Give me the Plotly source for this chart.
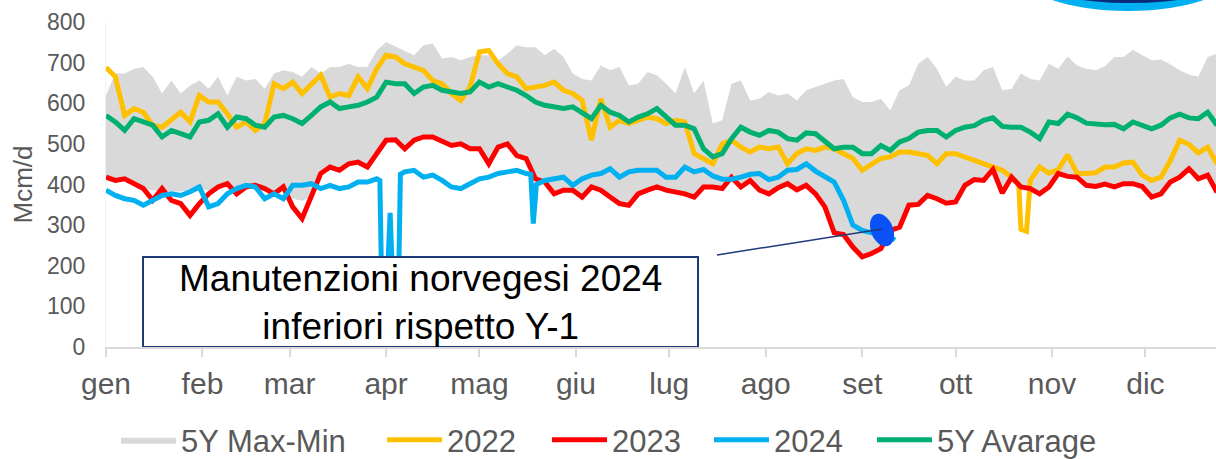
import numpy as np
import plotly.graph_objects as go

# ---------------- data ----------------
month_labels = ["gen", "feb", "mar", "apr", "mag", "giu", "lug", "ago", "set", "ott", "nov", "dic"]
month_start_days = [0, 31, 59, 90, 120, 151, 181, 212, 243, 273, 304, 334]

# shared sampling grid: day of year, every 3 days
days = list(range(0, 358, 3))

band_max = [620, 673, 673, 685, 689, 665, 624, 656, 624, 644, 656, 636, 665, 619, 665, 656, 660, 636, 673, 681,
            677, 665, 689, 673, 689, 689, 697, 689, 689, 730, 751, 740, 730, 718, 743, 747, 710, 714, 706, 714,
            718, 718, 706, 722, 743, 738, 738, 718, 734, 714, 673, 660, 656, 693, 681, 689, 644, 648, 677, 669,
            648, 624, 689, 624, 656, 550, 558, 648, 656, 607, 611, 628, 619, 624, 607, 632, 640, 648, 656, 660,
            615, 603, 603, 611, 583, 632, 644, 697, 714, 685, 640, 665, 656, 656, 681, 689, 632, 636, 673, 660,
            656, 697, 685, 715, 693, 685, 681, 691, 714, 714, 732, 718, 706, 708, 696, 681, 671, 665, 714, 722]

band_min = [410, 405, 410, 400, 390, 385, 385, 383, 383, 385, 390, 385, 392, 400, 380, 394, 396, 385, 378, 392,
            365, 360, 370, 425, 440, 433, 449, 453, 441, 474, 507, 508, 486, 507, 515, 515, 503, 494, 498, 486,
            486, 449, 490, 498, 469, 462, 412, 404, 375, 384, 384, 367, 392, 384, 367, 351, 347, 375, 384, 392,
            384, 380, 375, 367, 392, 392, 388, 416, 392, 408, 384, 375, 390, 400, 385, 396, 375, 343, 279, 275,
            244, 220, 228, 240, 285, 293, 347, 349, 371, 363, 352, 355, 396, 410, 408, 435, 377, 416, 392, 388,
            375, 392, 425, 418, 416, 396, 393, 399, 392, 400, 400, 393, 367, 375, 404, 416, 437, 412, 421, 379]

v2022 = [688, 665, 570, 587, 578, 546, 541, 558, 578, 554, 619, 603, 603, 574, 541, 554, 533, 550, 648, 636,
         652, 624, 648, 669, 615, 624, 619, 665, 636, 685, 718, 714, 697, 689, 681, 656, 648, 624, 607, 640,
         726, 730, 697, 673, 665, 636, 640, 644, 652, 632, 624, 607, 509, 611, 541, 558, 550, 558, 566, 562,
         550, 558, 554, 476, 464, 451, 500, 509, 492, 480, 492, 488, 492, 451, 476, 488, 484, 492, 488, 476,
         464, 435, 451, 464, 468, 480, 480, 476, 472, 451, 476, 476, 468, 460, 454, 443, 435, 418, 290, 410,
         443, 428, 437, 473, 428, 427, 429, 443, 443, 453, 455, 423, 410, 418, 459, 509, 499, 478, 492, 451]
# extra points for the narrow late-October drop of 2022
spike_days_2022 = [293.3, 295.8]
spike_vals_2022 = [400, 285]

v2023 = [418, 410, 414, 402, 390, 361, 390, 361, 353, 324, 353, 377, 394, 402, 377, 394, 398, 390, 377, 394,
         345, 316, 369, 427, 443, 435, 451, 455, 443, 476, 509, 510, 488, 509, 517, 517, 505, 496, 500, 488,
         488, 451, 492, 500, 471, 464, 414, 406, 377, 386, 386, 369, 394, 386, 369, 353, 349, 377, 386, 394,
         386, 382, 377, 369, 394, 394, 390, 418, 394, 410, 386, 377, 392, 402, 387, 398, 377, 345, 281, 277,
         246, 222, 230, 242, 287, 295, 349, 351, 373, 365, 354, 357, 398, 412, 410, 437, 379, 418, 394, 390,
         377, 394, 427, 420, 418, 398, 395, 401, 394, 402, 402, 395, 369, 377, 406, 418, 439, 414, 423, 381]

v5y_avg = [570, 554, 533, 562, 554, 546, 517, 533, 525, 517, 554, 558, 574, 541, 566, 562, 546, 541, 566, 570,
           562, 550, 570, 591, 603, 587, 591, 595, 603, 615, 652, 648, 648, 624, 640, 644, 632, 628, 624, 628,
           652, 640, 648, 640, 632, 619, 603, 595, 591, 587, 591, 578, 562, 595, 578, 570, 554, 566, 574, 587,
           566, 546, 546, 537, 488, 468, 476, 513, 541, 529, 521, 533, 529, 513, 509, 527, 525, 505, 488, 492,
           492, 476, 476, 496, 484, 505, 513, 529, 533, 533, 517, 533, 541, 545, 558, 564, 543, 541, 541, 529,
           513, 554, 550, 573, 564, 551, 548, 547, 548, 537, 554, 546, 537, 546, 564, 573, 564, 562, 578, 546]

days_2024 = [0, 3, 6, 9, 12, 15, 18, 21, 24, 27, 30, 33, 36, 39, 42, 45, 48, 51, 54, 57,
             60, 63, 66, 69, 72, 75, 78, 81, 84, 87, 88, 88.6, 90.3, 91.3, 92.2, 94, 94.6, 96, 99, 102,
             105, 108, 111, 114, 117, 120, 123, 126, 129, 132, 135, 136.5, 137.3, 138.3, 141, 144, 147, 150, 153, 156,
             159, 162, 165, 168, 171, 174, 177, 180, 183, 186, 189, 192, 195, 198, 201, 204, 207, 210, 213, 216,
             219, 222, 225, 228, 231, 234, 237, 240, 243, 246, 249, 252, 253.5]
v2024 = [386, 373, 365, 361, 349, 361, 373, 377, 373, 382, 394, 345, 353, 377, 390, 398, 394, 365, 377, 365,
         398, 398, 402, 390, 398, 390, 394, 406, 406, 414, 410, 150, 150, 330, 150, 150, 425, 431, 435, 418,
         423, 410, 394, 390, 402, 414, 418, 427, 431, 435, 427, 425, 304, 400, 410, 414, 418, 398, 414, 423,
         427, 439, 418, 431, 435, 435, 435, 418, 418, 443, 431, 437, 421, 413, 413, 418, 425, 427, 412, 418,
         435, 437, 451, 433, 421, 406, 361, 300, 287, 281, 283, 272, 263]

# ---------------- helpers ----------------
def merge_points(xs, ys, extra_x, extra_y):
    pts = sorted(zip(list(xs) + list(extra_x), list(ys) + list(extra_y)))
    return [p[0] for p in pts], [p[1] for p in pts]

x2022, y2022 = merge_points(days, v2022, spike_days_2022, spike_vals_2022)

FONT = "Liberation Sans, Arial, sans-serif"
GREY_TXT = "#595959"
C2022 = "#FFC000"
C2023 = "#FF0000"
C2024 = "#00B0F0"
C5Y = "#00B070"
BAND = "#D9D9D9"
LW = 5

# layout geometry (pixels)
W, H = 1216, 459
M_L, M_R, M_T, M_B = 106, 0, 22, 112
PX_PER_DAY = 3.112
X_MAX = (W - M_L - M_R) / PX_PER_DAY
PLOT_H = H - M_T - M_B
Y_MAX = 800

def px_to_data(px, py):
    return (px - M_L) / PX_PER_DAY, (H - M_B - py) * Y_MAX / PLOT_H

def px_to_paper(px, py):
    return (px - M_L) / (W - M_L - M_R), (H - M_B - py) / PLOT_H

fig = go.Figure()

fig.add_trace(go.Scatter(x=days, y=band_min, mode="lines", line=dict(width=0, color=BAND),
                         showlegend=False, hoverinfo="skip"))
fig.add_trace(go.Scatter(x=days, y=band_max, mode="lines", line=dict(width=0, color=BAND),
                         fill="tonexty", fillcolor=BAND, name="5Y Max-Min", legend="legend"))
fig.add_trace(go.Scatter(x=x2022, y=y2022, mode="lines", line=dict(width=LW, color=C2022),
                         name="2022", legend="legend2"))
fig.add_trace(go.Scatter(x=days, y=v2023, mode="lines", line=dict(width=LW, color=C2023),
                         name="2023", legend="legend3"))
fig.add_trace(go.Scatter(x=days_2024, y=v2024, mode="lines", line=dict(width=LW, color=C2024),
                         name="2024", legend="legend4"))
fig.add_trace(go.Scatter(x=days, y=v5y_avg, mode="lines", line=dict(width=LW, color=C5Y),
                         name="5Y Avarage", legend="legend5"))

shapes = []
# annotation box
bx0, by0 = px_to_data(143, 347)
bx1, by1 = px_to_data(698, 257)
shapes.append(dict(type="rect", xref="x", yref="y", x0=bx0, x1=bx1, y0=0, y1=by1,
                   line=dict(color="#1F3A7A", width=2), fillcolor="white", layer="above"))
# highlight ellipse (rotated) around the end of the 2024 series
cx, cy, ra, rb, ang = 882, 230, 11, 17, np.deg2rad(-22)
t = np.linspace(0, 2 * np.pi, 48)
ex = cx + ra * np.cos(t) * np.cos(ang) - rb * np.sin(t) * np.sin(ang)
ey = cy + ra * np.cos(t) * np.sin(ang) + rb * np.sin(t) * np.cos(ang)
pts = [px_to_data(a, b) for a, b in zip(ex, ey)]
path = "M " + " L ".join(f"{a:.3f},{b:.3f}" for a, b in pts) + " Z"
shapes.append(dict(type="path", xref="x", yref="y", path=path, fillcolor="#0A52F5",
                   line=dict(width=0), layer="above"))
# connector line
lx0, ly0 = px_to_data(717, 255)
lx1, ly1 = px_to_data(882, 229)
shapes.append(dict(type="line", xref="x", yref="y", x0=lx0, y0=ly0, x1=lx1, y1=ly1,
                   line=dict(color="#1F3A7A", width=1.5), layer="above"))
# partial logo at top right (cut by the page edge)
for (ocx, ocy, oa, ob, col) in [(1128, -29, 110, 40, "#00B0F0"), (1130, -17, 90, 20, "#0A2A78")]:
    p0 = px_to_paper(ocx - oa, ocy + ob)
    p1 = px_to_paper(ocx + oa, ocy - ob)
    shapes.append(dict(type="circle", xref="paper", yref="paper", x0=p0[0], x1=p1[0], y0=p0[1], y1=p1[1],
                       fillcolor=col, line=dict(width=0), layer="above"))

ann_x, ann_y = px_to_data(420, 302)
annotations = [dict(x=ann_x, y=ann_y, xref="x", yref="y", showarrow=False,
                    text="Manutenzioni norvegesi 2024<br>inferiori rispetto Y-1",
                    font=dict(family=FONT, size=37, color="black"), align="center")]

# one legend per entry, so each entry sits where the reference shows it
legend_swatch_px = [126, 392, 557, 719, 882]
LEG_OFFSET = 10
legends = {}
for i, sx in enumerate(legend_swatch_px):
    key = "legend" if i == 0 else f"legend{i + 1}"
    legends[key] = dict(orientation="h", xref="container", yref="container",
                        x=(sx - LEG_OFFSET) / W, xanchor="left", y=(H - 440) / H, yanchor="middle",
                        itemwidth=55, font=dict(family=FONT, size=31, color=GREY_TXT),
                        bgcolor="rgba(0,0,0,0)")

fig.update_layout(
    width=W, height=H,
    margin=dict(l=M_L, r=M_R, t=M_T, b=M_B, pad=0, autoexpand=False),
    paper_bgcolor="white", plot_bgcolor="white",
    font=dict(family=FONT, color=GREY_TXT),
    shapes=shapes, annotations=annotations,
    showlegend=True,
    xaxis=dict(range=[0, X_MAX], tickmode="array", tickvals=month_start_days, ticktext=month_labels,
               ticks="outside", ticklen=8, tickcolor="#D9D9D9", tickwidth=1.5, automargin=False,
               showline=True, linecolor="#D9D9D9", linewidth=1.5, showgrid=False, zeroline=False,
               tickfont=dict(family=FONT, size=30, color=GREY_TXT), ticklabelstandoff=1),
    yaxis=dict(range=[0, Y_MAX], dtick=100, tick0=0, showgrid=False, zeroline=False, automargin=False,
               showline=True, linecolor="#F2F2F2", linewidth=1, ticks="",
               tickfont=dict(family=FONT, size=23, color=GREY_TXT), ticklabelstandoff=15,
               title=dict(text="Mcm/d", font=dict(family=FONT, size=26, color=GREY_TXT), standoff=6)),
    **legends,
)

fig.write_html("out.html", config={"displayModeBar": False},
               post_script="document.body.style.margin='0px';document.body.style.overflow='hidden';")
